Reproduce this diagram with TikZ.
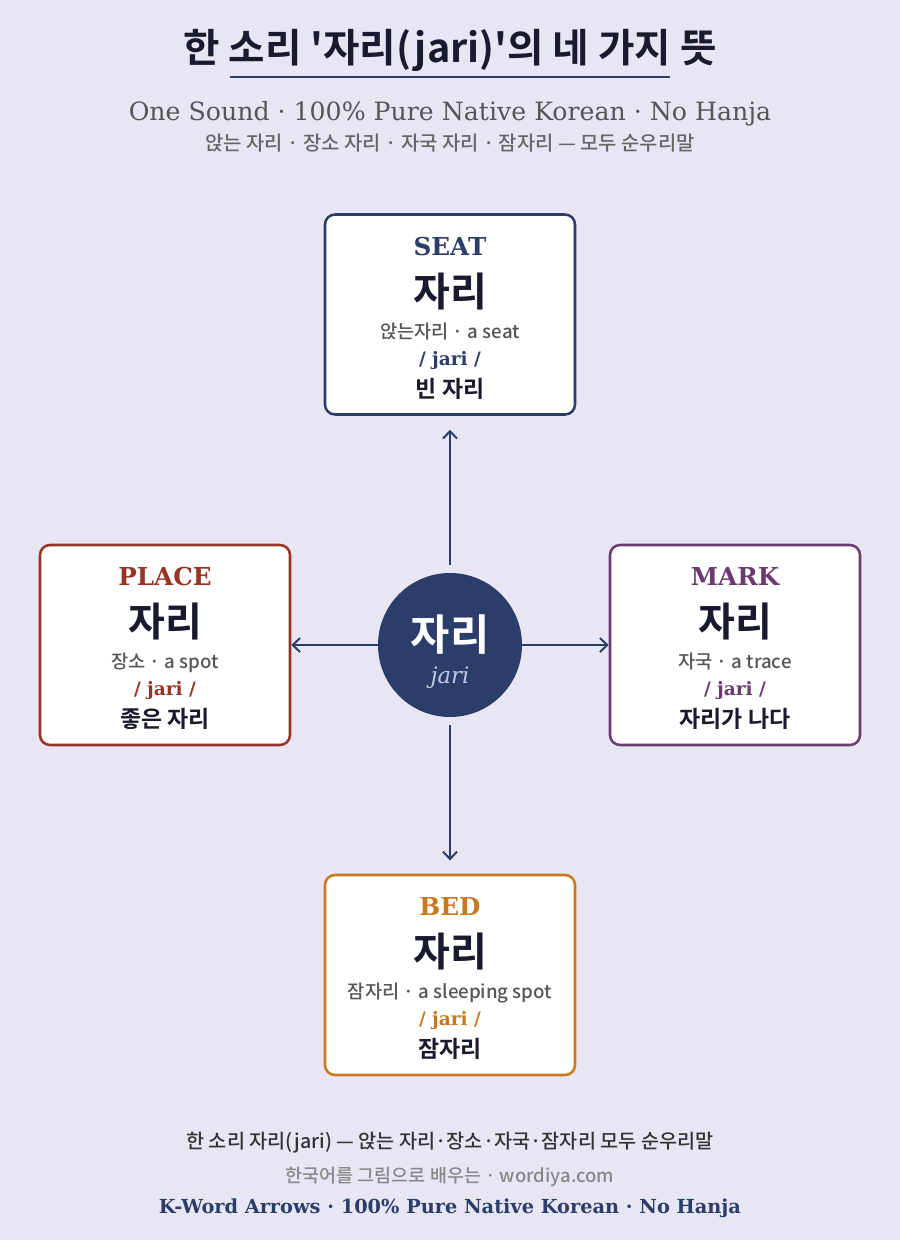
\documentclass[tikz,border=0pt]{standalone}
\usepackage{fontspec}
\usetikzlibrary{arrows.meta}
\newfontfamily\kr{Noto Sans CJK KR}[BoldFont={Noto Sans CJK KR Bold}]
\newfontfamily\krm{Noto Sans CJK KR Medium}
\newfontfamily\dser{DejaVu Serif}
\definecolor{bg}{HTML}{E8E6F3}
\definecolor{navy}{HTML}{2B3D6B}
\definecolor{redb}{HTML}{993325}
\definecolor{purp}{HTML}{6B3A6E}
\definecolor{orng}{HTML}{C8781E}
\definecolor{ink}{HTML}{1A1A2E}
\definecolor{gloss}{HTML}{555555}
\definecolor{jarilt}{HTML}{C0CAE6}
\tikzset{
  txt/.style={inner sep=0pt, anchor=base},
  card/.style={draw=#1, fill=white, line width=1.9pt, rounded corners=7.5pt,
    minimum width=187.5pt, minimum height=150pt, inner sep=0pt},
  lbl/.style={txt, font=\dser\bfseries\fontsize{18.5}{20}\selectfont, text=#1},
  big/.style={txt, font=\kr\bfseries\fontsize{30}{34}\selectfont, text=ink},
  gl/.style={txt, font=\krm\fontsize{14}{16}\selectfont, text=gloss},
  pron/.style={txt, font=\dser\bfseries\fontsize{13.9}{15}\selectfont, text=#1},
  ex/.style={txt, font=\kr\bfseries\fontsize{17.2}{19}\selectfont, text=ink},
  arr/.style={draw=navy, line width=1.5pt, -{Straight Barb[length=5.5pt,width=10.5pt]}},
}
\newcommand\cardtext[7]{%
  \node[lbl=#4] (#1-l) at (#2,#3+40) {#5};
  \node[big] (#1-b) at (#2,#3+91) {자리};
  \node[gl] (#1-g) at (#2,#3+123) {#6};
  \node[pron=#4] (#1-p) at (#2,#3+150) {/ jari /};
  \node[ex] (#1-e) at (#2,#3+182) {#7};
}
\begin{document}
\begin{tikzpicture}[x=0.75pt,y=-0.75pt]
\path[fill=bg] (0,0) rectangle (900,1240);
\useasboundingbox (0,0) rectangle (900,1240);

% title
\node[txt, font=\kr\bfseries\fontsize{29.7}{32}\selectfont, text=ink] (title) at (450,62) {한 소리 '자리(jari)'의 네 가지 뜻};
\coordinate (ul1) at (230,77);
\coordinate (ul2) at (670,77);
\draw[navy, line width=1.6pt] (ul1) -- (ul2);
\node[txt, font=\dser\fontsize{18.9}{21}\selectfont, text=gloss] (sub1) at (450,120) {One Sound · 100\% Pure Native Korean · No Hanja};
\node[txt, font=\krm\fontsize{14.9}{17}\selectfont, text=black!60] (sub2) at (450,150) {앉는 자리 · 장소 자리 · 자국 자리 · 잠자리 — 모두 순우리말};

% cards
\node[card=navy] (seat) at (450,314.5) {};
\node[card=redb] (place) at (165,645) {};
\node[card=purp] (mark) at (735,645) {};
\node[card=orng] (bed) at (450,975) {};

\cardtext{seat}{450}{215}{navy}{SEAT}{앉는자리 · a seat}{빈 자리}
\cardtext{place}{165}{545}{redb}{PLACE}{장소 · a spot}{좋은 자리}
\cardtext{mark}{735}{545}{purp}{MARK}{자국 · a trace}{자리가 나다}
\cardtext{bed}{450}{875}{orng}{BED}{잠자리 · a sleeping spot}{잠자리}

% centre
\node[circle, fill=navy, minimum size=108pt, inner sep=0pt] (c) at (450,645) {};
\node[txt, font=\kr\bfseries\fontsize{32}{36}\selectfont, text=white] (c-k) at (450,650) {자리};
\node[txt, font=\dser\itshape\fontsize{17}{19}\selectfont, text=jarilt] (c-r) at (450,683) {jari};

% arrows
\draw[arr, shorten <=6pt, shorten >=10.5pt] (c) -- (seat);
\draw[arr] (c) -- (place);
\draw[arr] (c) -- (mark);
\draw[arr, shorten <=6pt, shorten >=10pt] (c) -- (bed);

% footer
\node[txt, font=\krm\fontsize{14.75}{17}\selectfont, text=black!80] (f1) at (450,1148) {한 소리 자리(jari) — 앉는 자리·장소·자국·잠자리 모두 순우리말};
\node[txt, font=\krm\fontsize{13.85}{16}\selectfont, text=black!47] (f2) at (450,1182) {한국어를 그림으로 배우는 · wordiya.com};
\node[txt, font=\dser\bfseries\fontsize{14.5}{17}\selectfont, text=navy] (f3) at (450,1213) {K-Word Arrows · 100\% Pure Native Korean · No Hanja};
\end{tikzpicture}
\end{document}
